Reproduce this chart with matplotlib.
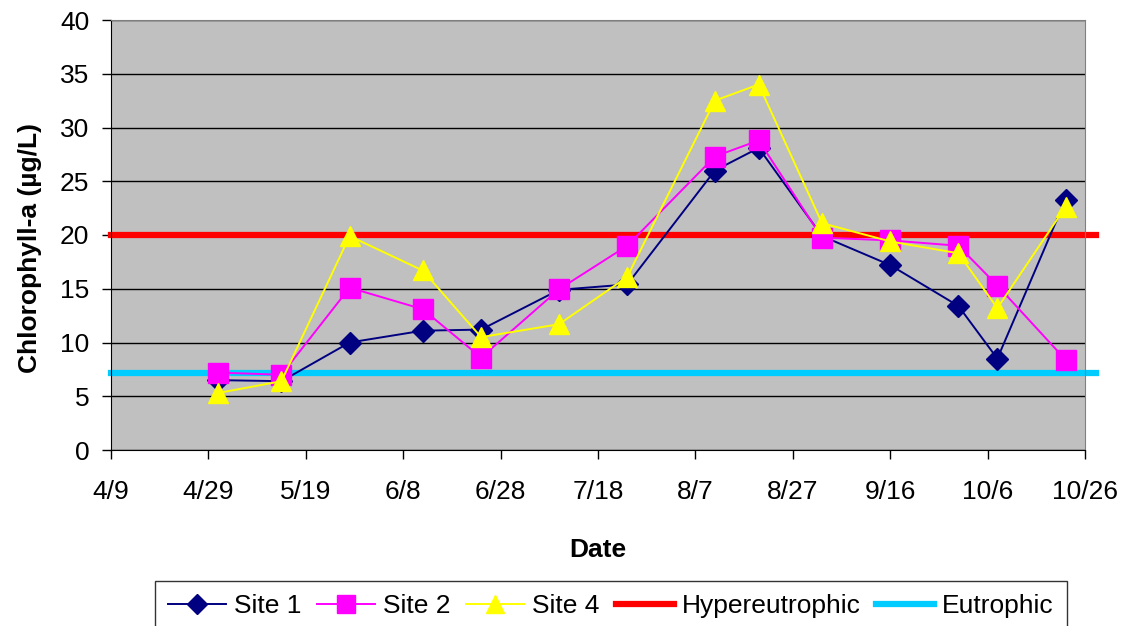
import numpy as np
import pandas as pd
import matplotlib
matplotlib.use('Agg')
import matplotlib.pyplot as plt

plt.rcParams['font.family'] = ['Liberation Sans', 'DejaVu Sans']

# sample dates (month/day) and chlorophyll-a values
dates = ['5/1', '5/14', '5/28', '6/12', '6/24', '7/10', '7/24', '8/11',
         '8/20', '9/2', '9/16', '9/30', '10/8', '10/22']
site1 = [6.5, 6.4, 10.0, 11.1, 11.2, 14.9, 15.4, 26.0, 28.1, 19.9, 17.2, 13.4, 8.5, 23.3]
site2 = [7.2, 7.0, 15.1, 13.1, 8.6, 14.95, 19.0, 27.3, 28.8, 19.75, 19.5, 19.0, 15.3, 8.4]
site4 = [5.3, 6.4, 19.9, 16.7, 10.5, 11.7, 16.1, 32.5, 34.0, 21.1, 19.4, 18.3, 13.2, 22.6]

hyper_level = 20.0
eutro_level = 7.2

tick_labels = ['4/9', '4/29', '5/19', '6/8', '6/28', '7/18', '8/7', '8/27',
               '9/16', '10/6', '10/26']

year = 2005
x = pd.to_datetime([f'{year}/{d}' for d in dates], format='%Y/%m/%d')
ticks = pd.to_datetime([f'{year}/{d}' for d in tick_labels], format='%Y/%m/%d')

fig = plt.figure(figsize=(11.25, 6.26), dpi=100)
ax = fig.add_axes([111/1125, 1-450/626, (1085-111)/1125, (450-20)/626])
ax.set_facecolor('#C0C0C0')

ax.axhline(hyper_level, xmax=1.011, color='#FF0000', lw=4.5, clip_on=False,
           zorder=2, label='Hypereutrophic')
ax.axhline(eutro_level, xmax=1.011, color='#00CCFF', lw=4.5, clip_on=False,
           zorder=2, label='Eutrophic')

ax.plot(x, site1, color='#000080', lw=1.4, marker='D', ms=11,
        mec='#000080', zorder=3, label='Site 1')
ax.plot(x, site2, color='#FF00FF', lw=1.4, marker='s', ms=14,
        mec='#FF00FF', zorder=4, label='Site 2')
ax.plot(x, site4, color='#FFFF00', lw=1.4, marker='^', ms=15,
        mec='#FFFF00', zorder=5, label='Site 4')

ax.set_ylim(0, 40)
ax.set_yticks(np.arange(0, 41, 5))
ax.set_xlim(ticks[0], ticks[-1])
ax.set_xticks(ticks)
ax.set_xticklabels(tick_labels)
ax.yaxis.grid(True, color='black', lw=1)
ax.set_axisbelow(True)

for s in ['top', 'right']:
    ax.spines[s].set_color('#808080')
for s in ['left', 'bottom']:
    ax.spines[s].set_color('black')
ax.tick_params(axis='both', labelsize=19, direction='out', length=6.5, width=1)
ax.tick_params(axis='x', pad=15)
ax.tick_params(axis='y', pad=9)

ax.set_xlabel('Date', fontsize=19, fontweight='bold')
ax.xaxis.set_label_coords(0.5, -0.205)
ax.set_ylabel('Chlorophyll-a (µg/L)', fontsize=19, fontweight='bold')
ax.yaxis.set_label_coords(-0.071, 0.47)

handles, labels = ax.get_legend_handles_labels()
order = [labels.index(n) for n in ['Site 1', 'Site 2', 'Site 4', 'Hypereutrophic', 'Eutrophic']]
leg = fig.legend([handles[i] for i in order], [labels[i] for i in order],
                 loc='upper center', bbox_to_anchor=(0.543, 0.072), ncol=5,
                 fontsize=19, frameon=True, fancybox=False, edgecolor='black',
                 handlelength=2.2, handletextpad=0.3, columnspacing=0.6,
                 borderpad=0.5, borderaxespad=0, markerscale=0.9)
leg.get_frame().set_linewidth(1)

fig.savefig('out.png', dpi=100)
